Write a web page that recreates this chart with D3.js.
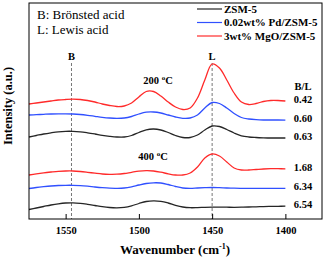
<!DOCTYPE html>
<html>
<head>
<meta charset="utf-8">
<script src="https://cdn.jsdelivr.net/npm/d3@7/dist/d3.min.js"></script>
<style>
  body { margin: 0; background: #fff; }
  svg { display: block; }
  svg text { font-family: "Liberation Serif", "Times New Roman", Times, serif; }
</style>
</head>
<body>
<div id="container"></div>
<script>
const width = 324;
const height = 259;
const margin = { top: 3, right: 2, bottom: 40, left: 29 };

// wavenumbers, 1575 -> 1400 cm-1 every 5
const wavenumbers = d3.range(1575, 1399, -5);

// intensities (a.u., offset stacked)
const zsm200 = [82, 83.5, 85, 86.2, 87.2, 87.7, 87.7, 87.2, 86.2, 85, 83.7, 82.7, 82, 82, 83.5, 86.5, 89.2, 90, 89, 86.5, 83.5, 81.5, 81.5, 84, 89, 93, 92.5, 89.5, 86, 83.2, 82, 81.5, 81.2, 81, 81, 81];
const pd200 = [104, 104.3, 104.7, 105, 105.2, 105.2, 105, 104.5, 103.7, 102.7, 101.7, 101, 100.7, 101, 102.5, 105, 106.8, 107, 106, 104, 102, 100.7, 101, 104, 111, 116.5, 115.5, 111, 105.5, 101.5, 100, 99.3, 99, 99, 99, 98.8];
const mgo200 = [115, 116, 117, 118, 119, 119.5, 119.8, 119.5, 118.5, 117, 115, 113.5, 112.5, 113, 116, 122, 127.5, 127.5, 123, 117, 112, 109.5, 111, 121, 139, 155, 151, 139, 126, 117, 114.5, 115.5, 117.5, 118.5, 118.5, 118];
const zsm400 = [9.5, 11, 12.5, 14, 15.2, 16, 16.2, 15.7, 14.7, 13.5, 12.3, 11.5, 11.2, 11.7, 13.2, 15.5, 17.5, 18.2, 17.7, 16, 13.7, 12, 11.3, 11.4, 11.7, 11.9, 11.9, 11.8, 11.7, 11.8, 12, 12.2, 12.4, 12.6, 12.7, 12.8];
const pd400 = [30.5, 31.5, 32.3, 33, 33.5, 33.7, 33.7, 33.4, 32.8, 32, 31.3, 30.8, 30.7, 31, 32.2, 34, 35.5, 36.2, 36, 34.5, 32.5, 31, 30.7, 31, 31.3, 31.5, 31.3, 31, 30.8, 30.7, 30.7, 30.7, 30.7, 30.7, 30.7, 30.7];
const mgo400 = [44, 45.2, 46.2, 47, 47.7, 48, 48, 47.5, 46.7, 45.8, 45, 44.7, 44.8, 45.5, 46.7, 47.8, 48.3, 48, 46.8, 45.2, 44, 44, 46, 52, 61, 65, 63, 57, 51, 49, 49, 49.5, 50, 50.3, 50.3, 50.2];

const legendNames = ['ZSM-5', '0.02wt% Pd/ZSM-5', '3wt% MgO/ZSM-5'];
const colors = ['#262626', '#3050ff', '#ff2a2a'];
const ratios = ['0.42', '0.60', '0.63', '1.68', '6.34', '6.54'];
const tickValues = [1550, 1500, 1450, 1400];
const bandPositions = [{ label: 'B', w: 1546 }, { label: 'L', w: 1450 }];

const series = [
    { values: mgo200, color: colors[2], ratio: ratios[0] },
    { values: pd200, color: colors[1], ratio: ratios[1] },
    { values: zsm200, color: colors[0], ratio: ratios[2] },
    { values: mgo400, color: colors[2], ratio: ratios[3] },
    { values: pd400, color: colors[1], ratio: ratios[4] },
    { values: zsm400, color: colors[0], ratio: ratios[5] }
];

const x = d3.scaleLinear().domain([1575, 1375]).range([margin.left, width - margin.right]);
const y = d3.scaleLinear().domain([0, 216]).range([height - margin.bottom, margin.top]);

let svg = d3.select('#container').append('svg')
    .attr('width', width)
    .attr('height', height);

// dashed band markers
svg.append('g')
    .selectAll('line')
    .data(bandPositions)
    .join('line')
    .attr('x1', d => x(d.w))
    .attr('x2', d => x(d.w))
    .attr('y1', 63)
    .attr('y2', height - margin.bottom)
    .attr('stroke', '#777')
    .attr('stroke-width', 1)
    .attr('stroke-dasharray', '3,2');

svg.append('g')
    .selectAll('text')
    .data(bandPositions)
    .join('text')
    .attr('x', d => x(d.w))
    .attr('y', 60)
    .attr('text-anchor', 'middle')
    .attr('font-size', 10.5)
    .attr('font-weight', 'bold')
    .text(d => d.label);

// spectra
let line = d3.line()
    .x((d, i) => x(wavenumbers[i]))
    .y(d => y(d))
    .curve(d3.curveCatmullRom.alpha(0.5));

svg.append('g')
    .selectAll('path')
    .data(series)
    .join('path')
    .attr('fill', 'none')
    .attr('stroke', d => d.color)
    .attr('stroke-width', 1.3)
    .attr('d', d => line(d.values));

// B/L ratios at line ends
svg.append('text')
    .attr('x', 303)
    .attr('y', 90)
    .attr('text-anchor', 'middle')
    .attr('font-size', 10.5)
    .attr('font-weight', 'bold')
    .text('B/L');

svg.append('g')
    .selectAll('text')
    .data(series)
    .join('text')
    .attr('x', 303)
    .attr('y', d => y(d.values[d.values.length - 1]) + 2)
    .attr('text-anchor', 'middle')
    .attr('font-size', 10.5)
    .attr('font-weight', 'bold')
    .text(d => d.ratio);

// temperature labels
[{ t: '200', x: 158, y: 84 }, { t: '400', x: 153, y: 160 }].forEach(d => {
    let txt = svg.append('text')
        .attr('x', d.x)
        .attr('y', d.y)
        .attr('text-anchor', 'middle')
        .attr('font-size', 10.5)
        .attr('font-weight', 'bold');
    txt.append('tspan').text(d.t + ' ');
    txt.append('tspan').attr('font-size', 7).attr('dy', -4).text('o');
    txt.append('tspan').attr('dy', 4).text('C');
});

// frame
svg.append('rect')
    .attr('x', margin.left)
    .attr('y', margin.top)
    .attr('width', width - margin.left - margin.right)
    .attr('height', height - margin.top - margin.bottom)
    .attr('fill', 'none')
    .attr('stroke', '#000')
    .attr('stroke-width', 1);

// x axis, ticks inward
let xAxis = svg.append('g')
    .attr('transform', 'translate(0,' + (height - margin.bottom) + ')')
    .call(d3.axisBottom(x).tickValues(tickValues).tickFormat(d3.format('d'))
        .tickSizeInner(-5).tickSizeOuter(0).tickPadding(8));
xAxis.select('.domain').remove();
xAxis.selectAll('line').attr('stroke', '#000');
xAxis.selectAll('text')
    .attr('font-family', '"Liberation Serif", "Times New Roman", serif')
    .attr('font-size', 10.5)
    .attr('font-weight', 'bold')
    .attr('fill', '#000');

// axis titles
let xt = svg.append('text')
    .attr('x', 175)
    .attr('y', 254)
    .attr('text-anchor', 'middle')
    .attr('font-size', 13)
    .attr('font-weight', 'bold');
xt.append('tspan').text('Wavenumber (cm');
xt.append('tspan').attr('font-size', 8).attr('dy', -5).text('-1');
xt.append('tspan').attr('dy', 5).text(')');

svg.append('text')
    .attr('transform', 'translate(12,106) rotate(-90)')
    .attr('text-anchor', 'middle')
    .attr('font-size', 12.5)
    .attr('font-weight', 'bold')
    .text('Intensity (a.u.)');

// acid type notes
svg.append('text').attr('x', 37).attr('y', 19).attr('font-size', 13).text('B: Brönsted acid');
svg.append('text').attr('x', 37).attr('y', 34).attr('font-size', 13).text('L: Lewis acid');

// legend
let legend = svg.append('g')
    .selectAll('g')
    .data(legendNames)
    .join('g')
    .attr('transform', (d, i) => 'translate(197,' + (9 + i * 13.5) + ')');
legend.append('line')
    .attr('x1', 0).attr('x2', 25)
    .attr('stroke', (d, i) => colors[i])
    .attr('stroke-width', 1.2);
legend.append('text')
    .attr('x', 27)
    .attr('y', 3.5)
    .attr('font-size', 11)
    .attr('font-weight', 'bold')
    .text(d => d);
</script>
</body>
</html>
